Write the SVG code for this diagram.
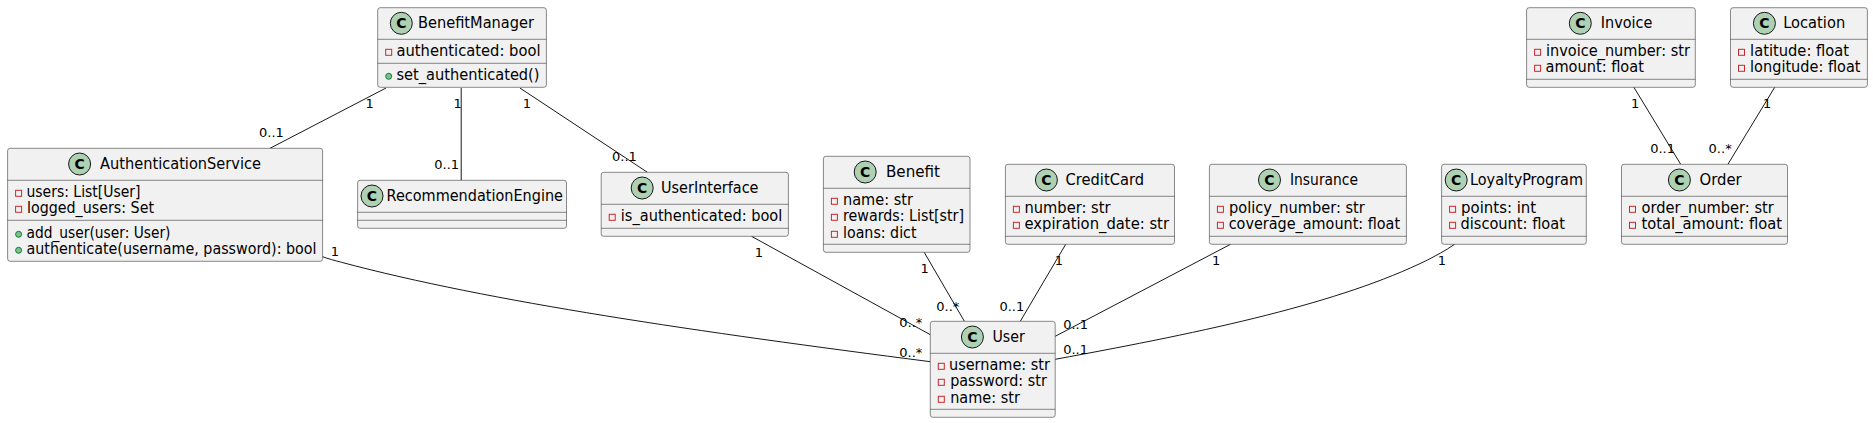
<svg xmlns="http://www.w3.org/2000/svg" width="1873" height="423" viewBox="0 0 1873 423">
<style>
text{font-family:"DejaVu Sans",sans-serif;fill:#000}
.b{fill:#F1F1F1;stroke:#181818;stroke-width:.5}
.s{stroke:#181818;stroke-width:.5}
.k{fill:#ADD1B2;stroke:#181818;stroke-width:1}
.c{font-size:14px;font-weight:700;text-anchor:middle}
.t{font-size:15px}
.l{font-size:13px}
.p{fill:none;stroke:#C82930;stroke-width:1}
.u{fill:#84BE84;stroke:#038048;stroke-width:1}
.e{fill:none;stroke:#181818;stroke-width:1}
</style>
<rect width="1873" height="423" fill="#fff"/>
<g id="connectors">
<path class="e" d="M386 88L270 148.3"/>
<path class="e" d="M461.2 88V180.3"/>
<path class="e" d="M519.9 88L647.4 172.3"/>
<path class="e" d="M322.6 256.7C328 258.8 335 260.5 341.5 262.3C490 302 700 332 930.3 361.7"/>
<path class="e" d="M751.5 236.3L930.3 334.7"/>
<path class="e" d="M924.2 252.3L964.4 321.3"/>
<path class="e" d="M1065.7 244.3L1020.3 321.3"/>
<path class="e" d="M1230.5 244.3L1055.2 336.3"/>
<path class="e" d="M1454.5 244.3C1445 251 1436 255.5 1427.5 260C1340 303 1210 331 1055.2 359.3"/>
<path class="e" d="M1633.9 87.3L1680.7 164.3"/>
<path class="e" d="M1774.7 87.3L1727.9 164.3"/>
<text class="l" x="365.6" y="108.3">1</text><text class="l" x="259" y="137.3">0..1</text>
<text class="l" x="453.6" y="108.3">1</text><text class="l" x="434.3" y="169.3">0..1</text>
<text class="l" x="522.7" y="108.3">1</text><text class="l" x="612" y="161.3">0..1</text>
<text class="l" x="330.7" y="256">1</text><text class="l" x="899.3" y="357.3">0..*</text>
<text class="l" x="754.7" y="257.3">1</text><text class="l" x="899.3" y="327.3">0..*</text>
<text class="l" x="920.6" y="273.3">1</text><text class="l" x="936.3" y="310.7">0..*</text>
<text class="l" x="1054.8" y="265.3">1</text><text class="l" x="999.4" y="310.7">0..1</text>
<text class="l" x="1211.9" y="265.3">1</text><text class="l" x="1063.2" y="329.3">0..1</text>
<text class="l" x="1437.8" y="265.3">1</text><text class="l" x="1063.2" y="354.3">0..1</text>
<text class="l" x="1630.9" y="108.3">1</text><text class="l" x="1650.2" y="153.3">0..1</text>
<text class="l" x="1763" y="108.3">1</text><text class="l" x="1708.6" y="153.3">0..*</text>
</g>
<g id="BenefitManager">
<rect class="b" x="377.7" y="7.7" width="168.7" height="79.6" rx="2.5"/>
<line class="s" x1="377.7" x2="546.4" y1="39.3" y2="39.3"/><line class="s" x1="377.7" x2="546.4" y1="63.3" y2="63.3"/>
<circle class="k" cx="401.3" cy="23.3" r="11"/><text class="c" x="401.3" y="28.4">C</text>
<text class="t" x="418" y="28.4" textLength="116" lengthAdjust="spacingAndGlyphs">BenefitManager</text>
<rect class="p" x="385.7" y="49.3" width="6" height="6"/><text class="t" x="396.5" y="56" textLength="144" lengthAdjust="spacingAndGlyphs">authenticated: bool</text>
<circle class="u" cx="388.7" cy="76.3" r="3"/><text class="t" x="396.5" y="80" textLength="143" lengthAdjust="spacingAndGlyphs">set_authenticated()</text>
</g>
<g id="AuthenticationService">
<rect class="b" x="7.6" y="148.3" width="315" height="113" rx="2.5"/>
<line class="s" x1="7.6" x2="322.6" y1="180.3" y2="180.3"/><line class="s" x1="7.6" x2="322.6" y1="220.3" y2="220.3"/>
<circle class="k" cx="79.6" cy="164" r="11"/><text class="c" x="79.6" y="169">C</text>
<text class="t" x="100" y="169" textLength="161" lengthAdjust="spacingAndGlyphs">AuthenticationService</text>
<rect class="p" x="15.6" y="190.3" width="6" height="6"/><text class="t" x="26.5" y="197" textLength="114" lengthAdjust="spacingAndGlyphs">users: List[User]</text>
<rect class="p" x="15.6" y="206.3" width="6" height="6"/><text class="t" x="27" y="213" textLength="127" lengthAdjust="spacingAndGlyphs">logged_users: Set</text>
<circle class="u" cx="18.6" cy="234.3" r="3"/><text class="t" x="26.5" y="238" textLength="144" lengthAdjust="spacingAndGlyphs">add_user(user: User)</text>
<circle class="u" cx="18.6" cy="250.3" r="3"/><text class="t" x="26.5" y="254" textLength="290" lengthAdjust="spacingAndGlyphs">authenticate(username, password): bool</text>
</g>
<g id="RecommendationEngine">
<rect class="b" x="357.6" y="180.3" width="208.9" height="48" rx="2.5"/>
<line class="s" x1="357.6" x2="566.5" y1="212.3" y2="212.3"/><line class="s" x1="357.6" x2="566.5" y1="220.3" y2="220.3"/>
<circle class="k" cx="372" cy="196" r="11"/><text class="c" x="372" y="201">C</text>
<text class="t" x="386.5" y="201" textLength="176.5" lengthAdjust="spacingAndGlyphs">RecommendationEngine</text>
</g>
<g id="UserInterface">
<rect class="b" x="601.2" y="172.3" width="187.2" height="64" rx="2.5"/>
<line class="s" x1="601.2" x2="788.4" y1="204.3" y2="204.3"/><line class="s" x1="601.2" x2="788.4" y1="228.3" y2="228.3"/>
<circle class="k" cx="642.2" cy="188" r="11"/><text class="c" x="642.2" y="193">C</text>
<text class="t" x="661" y="193" textLength="97.5" lengthAdjust="spacingAndGlyphs">UserInterface</text>
<rect class="p" x="609.2" y="214.3" width="6" height="6"/><text class="t" x="620.8" y="221" textLength="161.5" lengthAdjust="spacingAndGlyphs">is_authenticated: bool</text>
</g>
<g id="Benefit">
<rect class="b" x="823.4" y="156.3" width="146.6" height="96" rx="2.5"/>
<line class="s" x1="823.4" x2="970" y1="188.3" y2="188.3"/><line class="s" x1="823.4" x2="970" y1="244.3" y2="244.3"/>
<circle class="k" cx="865.2" cy="172" r="11"/><text class="c" x="865.2" y="177">C</text>
<text class="t" x="886" y="177" textLength="54" lengthAdjust="spacingAndGlyphs">Benefit</text>
<rect class="p" x="831.4" y="198.3" width="6" height="6"/><text class="t" x="843" y="205" textLength="70" lengthAdjust="spacingAndGlyphs">name: str</text>
<rect class="p" x="831.4" y="214.3" width="6" height="6"/><text class="t" x="843" y="221" textLength="121" lengthAdjust="spacingAndGlyphs">rewards: List[str]</text>
<rect class="p" x="831.4" y="231.3" width="6" height="6"/><text class="t" x="843" y="238" textLength="73.5" lengthAdjust="spacingAndGlyphs">loans: dict</text>
</g>
<g id="CreditCard">
<rect class="b" x="1005.4" y="164.3" width="169.1" height="80" rx="2.5"/>
<line class="s" x1="1005.4" x2="1174.5" y1="196.3" y2="196.3"/><line class="s" x1="1005.4" x2="1174.5" y1="236.3" y2="236.3"/>
<circle class="k" cx="1046.4" cy="180" r="11"/><text class="c" x="1046.4" y="185">C</text>
<text class="t" x="1065.5" y="185" textLength="78.5" lengthAdjust="spacingAndGlyphs">CreditCard</text>
<rect class="p" x="1013.4" y="206.3" width="6" height="6"/><text class="t" x="1024.5" y="213" textLength="86" lengthAdjust="spacingAndGlyphs">number: str</text>
<rect class="p" x="1013.4" y="222.3" width="6" height="6"/><text class="t" x="1024.5" y="229" textLength="144.5" lengthAdjust="spacingAndGlyphs">expiration_date: str</text>
</g>
<g id="Insurance">
<rect class="b" x="1209.4" y="164.3" width="197" height="80" rx="2.5"/>
<line class="s" x1="1209.4" x2="1406.4" y1="196.3" y2="196.3"/><line class="s" x1="1209.4" x2="1406.4" y1="236.3" y2="236.3"/>
<circle class="k" cx="1269.5" cy="180" r="11"/><text class="c" x="1269.5" y="185">C</text>
<text class="t" x="1290" y="185" textLength="68" lengthAdjust="spacingAndGlyphs">Insurance</text>
<rect class="p" x="1217.4" y="206.3" width="6" height="6"/><text class="t" x="1229" y="213" textLength="135.8" lengthAdjust="spacingAndGlyphs">policy_number: str</text>
<rect class="p" x="1217.4" y="222.3" width="6" height="6"/><text class="t" x="1228.7" y="229" textLength="171.4" lengthAdjust="spacingAndGlyphs">coverage_amount: float</text>
</g>
<g id="LoyaltyProgram">
<rect class="b" x="1441.6" y="164.3" width="144.7" height="80" rx="2.5"/>
<line class="s" x1="1441.6" x2="1586.3" y1="196.3" y2="196.3"/><line class="s" x1="1441.6" x2="1586.3" y1="236.3" y2="236.3"/>
<circle class="k" cx="1456.2" cy="180" r="11"/><text class="c" x="1456.2" y="185">C</text>
<text class="t" x="1470" y="185" textLength="113" lengthAdjust="spacingAndGlyphs">LoyaltyProgram</text>
<rect class="p" x="1449.6" y="206.3" width="6" height="6"/><text class="t" x="1461" y="213" textLength="75.2" lengthAdjust="spacingAndGlyphs">points: int</text>
<rect class="p" x="1449.6" y="222.3" width="6" height="6"/><text class="t" x="1460.5" y="229" textLength="104.4" lengthAdjust="spacingAndGlyphs">discount: float</text>
</g>
<g id="Invoice">
<rect class="b" x="1526.6" y="7.7" width="168.7" height="79.6" rx="2.5"/>
<line class="s" x1="1526.6" x2="1695.3" y1="39.3" y2="39.3"/><line class="s" x1="1526.6" x2="1695.3" y1="79.3" y2="79.3"/>
<circle class="k" cx="1580.3" cy="23.3" r="11"/><text class="c" x="1580.3" y="28.4">C</text>
<text class="t" x="1600.8" y="28.4" textLength="51.6" lengthAdjust="spacingAndGlyphs">Invoice</text>
<rect class="p" x="1534.6" y="49.3" width="6" height="6"/><text class="t" x="1546" y="56" textLength="144" lengthAdjust="spacingAndGlyphs">invoice_number: str</text>
<rect class="p" x="1534.6" y="65.3" width="6" height="6"/><text class="t" x="1545.5" y="72" textLength="98.4" lengthAdjust="spacingAndGlyphs">amount: float</text>
</g>
<g id="Location">
<rect class="b" x="1730.5" y="7.7" width="136.9" height="79.6" rx="2.5"/>
<line class="s" x1="1730.5" x2="1867.4" y1="39.3" y2="39.3"/><line class="s" x1="1730.5" x2="1867.4" y1="79.3" y2="79.3"/>
<circle class="k" cx="1764.4" cy="23.3" r="11"/><text class="c" x="1764.4" y="28.4">C</text>
<text class="t" x="1783.2" y="28.4" textLength="62" lengthAdjust="spacingAndGlyphs">Location</text>
<rect class="p" x="1738.5" y="49.3" width="6" height="6"/><text class="t" x="1750.1" y="56" textLength="98.9" lengthAdjust="spacingAndGlyphs">latitude: float</text>
<rect class="p" x="1738.5" y="65.3" width="6" height="6"/><text class="t" x="1750.1" y="72" textLength="110.4" lengthAdjust="spacingAndGlyphs">longitude: float</text>
</g>
<g id="Order">
<rect class="b" x="1621.5" y="164.3" width="166" height="80" rx="2.5"/>
<line class="s" x1="1621.5" x2="1787.5" y1="196.3" y2="196.3"/><line class="s" x1="1621.5" x2="1787.5" y1="236.3" y2="236.3"/>
<circle class="k" cx="1679.4" cy="180" r="11"/><text class="c" x="1679.4" y="185">C</text>
<text class="t" x="1699.5" y="185" textLength="42.2" lengthAdjust="spacingAndGlyphs">Order</text>
<rect class="p" x="1629.5" y="206.3" width="6" height="6"/><text class="t" x="1641.5" y="213" textLength="132.3" lengthAdjust="spacingAndGlyphs">order_number: str</text>
<rect class="p" x="1629.5" y="222.3" width="6" height="6"/><text class="t" x="1641.5" y="229" textLength="140.5" lengthAdjust="spacingAndGlyphs">total_amount: float</text>
</g>
<g id="User">
<rect class="b" x="930.3" y="321.3" width="124.9" height="96" rx="2.5"/>
<line class="s" x1="930.3" x2="1055.2" y1="353.3" y2="353.3"/><line class="s" x1="930.3" x2="1055.2" y1="409.3" y2="409.3"/>
<circle class="k" cx="972.4" cy="337" r="11"/><text class="c" x="972.4" y="342">C</text>
<text class="t" x="992.5" y="342" textLength="32.3" lengthAdjust="spacingAndGlyphs">User</text>
<rect class="p" x="938.3" y="363.3" width="6" height="6"/><text class="t" x="949" y="370" textLength="101" lengthAdjust="spacingAndGlyphs">username: str</text>
<rect class="p" x="938.3" y="379.3" width="6" height="6"/><text class="t" x="950.2" y="386" textLength="96.6" lengthAdjust="spacingAndGlyphs">password: str</text>
<rect class="p" x="938.3" y="396.3" width="6" height="6"/><text class="t" x="950.2" y="403" textLength="69.7" lengthAdjust="spacingAndGlyphs">name: str</text>
</g>
</svg>
